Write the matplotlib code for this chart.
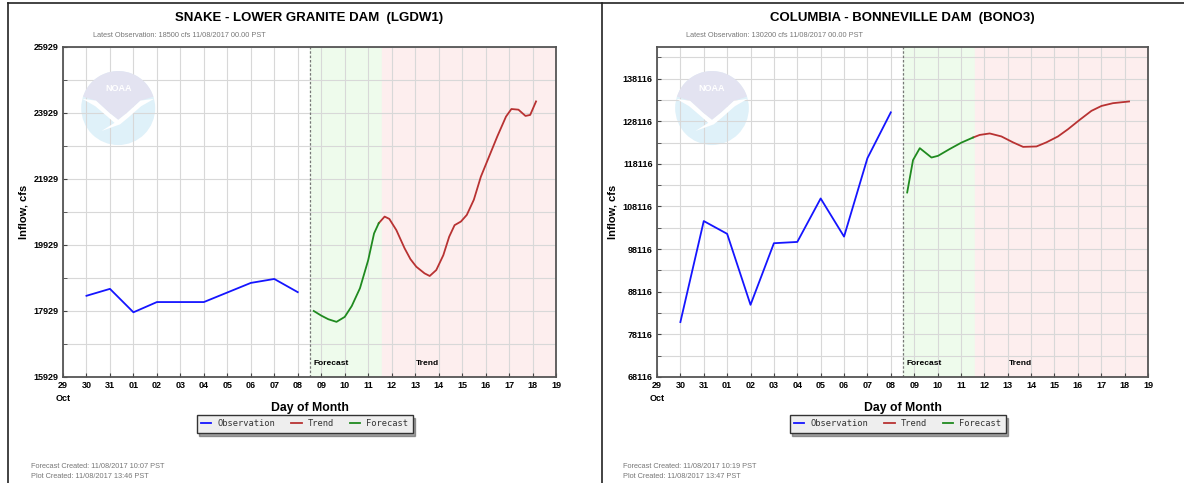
import numpy as np
import matplotlib
matplotlib.use("Agg")
import matplotlib.pyplot as plt
from matplotlib.patches import Ellipse, Polygon
from matplotlib.lines import Line2D
import matplotlib.transforms as mtransforms

plt.rcParams['font.family'] = ['Liberation Sans', 'DejaVu Sans']

# x axis: days since Oct 29
day_labels = ['29\nOct', '30', '31', '01', '02', '03', '04', '05', '06', '07', '08',
              '09', '10', '11', '12', '13', '14', '15', '16', '17', '18', '19']
now_day = 10.54       # start of forecast
trend_start = 13.58   # end of forecast / start of trend

# Snake - Lower Granite
lgd_obs_day = [1, 2, 3, 4, 5, 6, 7, 8, 9, 10]
lgd_obs = [18390, 18600, 17890, 18200, 18200, 18200, 18490, 18780, 18900, 18500]
lgd_fc_day = [10.68, 11.0, 11.3, 11.65, 12.0, 12.3, 12.65, 13.0, 13.25, 13.45]
lgd_fc = [17930, 17790, 17680, 17600, 17750, 18080, 18620, 19470, 20280, 20590]
lgd_tr_day = [13.45, 13.7, 13.9, 14.2, 14.55, 14.8, 15.05, 15.4, 15.62, 15.9, 16.2,
              16.45, 16.68, 16.95, 17.2, 17.5, 17.8, 18.15, 18.5, 18.87, 19.1,
              19.4, 19.7, 19.9, 20.15]
lgd_tr = [20590, 20790, 20720, 20380, 19830, 19500, 19270, 19070, 18990, 19170, 19620,
          20180, 20530, 20640, 20840, 21300, 22000, 22610, 23220, 23820, 24050,
          24030, 23840, 23870, 24280]

# Columbia - Bonneville
bon_obs_day = [1, 2, 3, 4, 5, 6, 7, 8, 9, 10]
bon_obs = [81000, 104700, 101700, 85050, 99500, 99800, 110000, 101050, 119450, 130200]
bon_fc_day = [10.70, 10.95, 11.24, 11.74, 12.02, 12.52, 13.02, 13.52]
bon_fc = [111400, 119000, 121800, 119600, 120000, 121600, 123100, 124300]
bon_tr_day = [13.52, 13.8, 14.23, 14.73, 15.23, 15.66, 16.23, 16.65, 17.15, 17.58,
              18.08, 18.58, 19.01, 19.5, 20.19]
bon_tr = [124300, 124900, 125250, 124550, 123150, 122100, 122200, 123150, 124550, 126250,
          128450, 130550, 131700, 132350, 132750]

BLUE = '#1515ff'
RED = '#b83232'
GREEN = '#1f8a1f'


def noaa_logo(ax, cx, cy, rx, ry):
    # faint NOAA logo, local coords in units of radius
    def tr(pts):
        return [(cx + u * rx, cy + v * ry) for u, v in pts]
    t = ax.transAxes
    ax.add_patch(Ellipse((cx, cy), 2 * rx, 2 * ry, transform=t, fc='#dff1f9', ec='none', zorder=0.5))
    ang = np.linspace(np.radians(18), np.radians(162), 30)
    cap = [(np.cos(a), np.sin(a)) for a in ang]
    body = [(-0.6, 0.2), (-0.25, -0.12), (0, -0.32), (0.25, -0.12), (0.6, 0.2)]
    ax.add_patch(Polygon(tr(cap + body), closed=True, transform=t, fc='#e3e3f1', ec='none', zorder=0.6))
    wing = [(-0.97, 0.25), (-0.6, 0.2), (-0.25, -0.12), (0, -0.32), (0.25, -0.12), (0.6, 0.2),
            (0.97, 0.25), (0.62, 0.05), (0.28, -0.25), (0.05, -0.44), (-0.45, -0.62),
            (-0.1, -0.4), (-0.28, -0.24), (-0.62, 0.05)]
    ax.add_patch(Polygon(tr(wing), closed=True, transform=t, fc='white', ec='none', zorder=0.7))
    ax.text(cx, cy + 0.52 * ry, 'NOAA', transform=t, color='white', fontsize=6.5,
            fontweight='bold', ha='center', va='center', zorder=0.8)


def draw_panel(ax, obs_day, obs, fc_day, fc, tr_day, tr, ylo, yhi, major, minor, title, latest):
    ax.set_facecolor('white')
    ax.axvspan(now_day, trend_start, color='#eefbec', zorder=0)
    ax.axvspan(trend_start, 21, color='#fdeeee', zorder=0)
    ax.axvline(now_day, color='#777777', lw=0.9, ls=(0, (2, 1.5)), zorder=1)

    ax.set_xlim(0, 21)
    ax.set_ylim(ylo, yhi)
    ax.set_xticks(np.arange(0, 22))
    ax.set_xticklabels(day_labels, fontsize=6.5, fontweight='bold', linespacing=1.6)
    ax.set_yticks(major)
    ax.set_yticks(minor, minor=True)
    ax.set_yticklabels([str(v) for v in major], fontsize=6.5, fontweight='bold')
    ax.grid(True, which='both', color='#d8d8d8', lw=0.8, zorder=0.9)
    ax.set_axisbelow(True)
    ax.tick_params(axis='both', which='both', direction='in', length=3, color='#444444', pad=3)
    for s in ax.spines.values():
        s.set_color('#555555')
        s.set_linewidth(1.3)

    noaa_logo(ax, 0.112, 0.815, 37 / 493, 37 / 330)

    ax.plot(obs_day, obs, color=BLUE, lw=1.3, zorder=3, label='Observation')
    ax.plot(tr_day, tr, color=RED, lw=1.3, zorder=3, label='Trend')
    ax.plot(fc_day, fc, color=GREEN, lw=1.3, zorder=3, label='Forecast')

    blend = mtransforms.blended_transform_factory(ax.transData, ax.transAxes)
    ax.text(10.68, 0.04, 'Forecast', transform=blend, fontsize=6, fontweight='bold', va='center', zorder=4)
    ax.text(15.05, 0.04, 'Trend', transform=blend, fontsize=6, fontweight='bold', va='center', zorder=4)

    ax.set_xlabel('Day of Month', fontsize=8.8, fontweight='bold', labelpad=-1)
    ax.set_ylabel('Inflow, cfs', fontsize=8, fontweight='bold', labelpad=4)
    ax.set_title(title, fontsize=9.5, fontweight='bold', pad=19)
    ax.text(0.06, 1.035, latest, transform=ax.transAxes, fontsize=5.3, color='#777777', va='center')

    leg = ax.legend(loc='center', bbox_to_anchor=(0.49, -0.142), ncol=3, fontsize=6.3,
                    frameon=True, fancybox=False, shadow=True, handlelength=1.2,
                    columnspacing=1.8, handletextpad=0.7, borderpad=0.5)
    leg.get_frame().set_facecolor('#eeeeee')
    leg.get_frame().set_edgecolor('#333333')
    leg.get_frame().set_linewidth(1.0)
    for t in leg.get_texts():
        t.set_family(['DejaVu Sans Mono'])
        t.set_color('#333333')


fig = plt.figure(figsize=(11.84, 4.83), dpi=100)
ax1 = fig.add_axes([63 / 1184, 1 - 377 / 483, 493 / 1184, 330 / 483])
ax2 = fig.add_axes([657 / 1184, 1 - 377 / 483, 491 / 1184, 330 / 483])

draw_panel(ax1, lgd_obs_day, lgd_obs, lgd_fc_day, lgd_fc, lgd_tr_day, lgd_tr,
           15929, 25929, np.arange(15929, 25930, 2000), np.arange(15929, 25930, 1000),
           'SNAKE - LOWER GRANITE DAM  (LGDW1)',
           'Latest Observation: 18500 cfs 11/08/2017 00.00 PST')
draw_panel(ax2, bon_obs_day, bon_obs, bon_fc_day, bon_fc, bon_tr_day, bon_tr,
           68116, 145530, np.arange(68116, 145000, 10000), np.arange(68116, 145530, 5000),
           'COLUMBIA - BONNEVILLE DAM  (BONO3)',
           'Latest Observation: 130200 cfs 11/08/2017 00.00 PST')

# footer texts
fig.text(31 / 1184, 1 - 466 / 483, 'Forecast Created: 11/08/2017 10:07 PST', fontsize=5.3, color='#777777', va='center')
fig.text(31 / 1184, 1 - 477 / 483, 'Plot Created: 11/08/2017 13:46 PST', fontsize=5.3, color='#777777', va='center')
fig.text(623 / 1184, 1 - 466 / 483, 'Forecast Created: 11/08/2017 10:19 PST', fontsize=5.3, color='#777777', va='center')
fig.text(623 / 1184, 1 - 477 / 483, 'Plot Created: 11/08/2017 13:47 PST', fontsize=5.3, color='#777777', va='center')

# panel frame lines
fig.add_artist(Line2D([8 / 1184, 1], [1 - 3 / 483, 1 - 3 / 483], color='#222222', lw=1.2))
fig.add_artist(Line2D([8 / 1184, 8 / 1184], [0, 1 - 3 / 483], color='#222222', lw=1.2))
fig.add_artist(Line2D([601.5 / 1184, 601.5 / 1184], [0, 1 - 3 / 483], color='#222222', lw=1.2))

fig.savefig('out.png', dpi=100)
